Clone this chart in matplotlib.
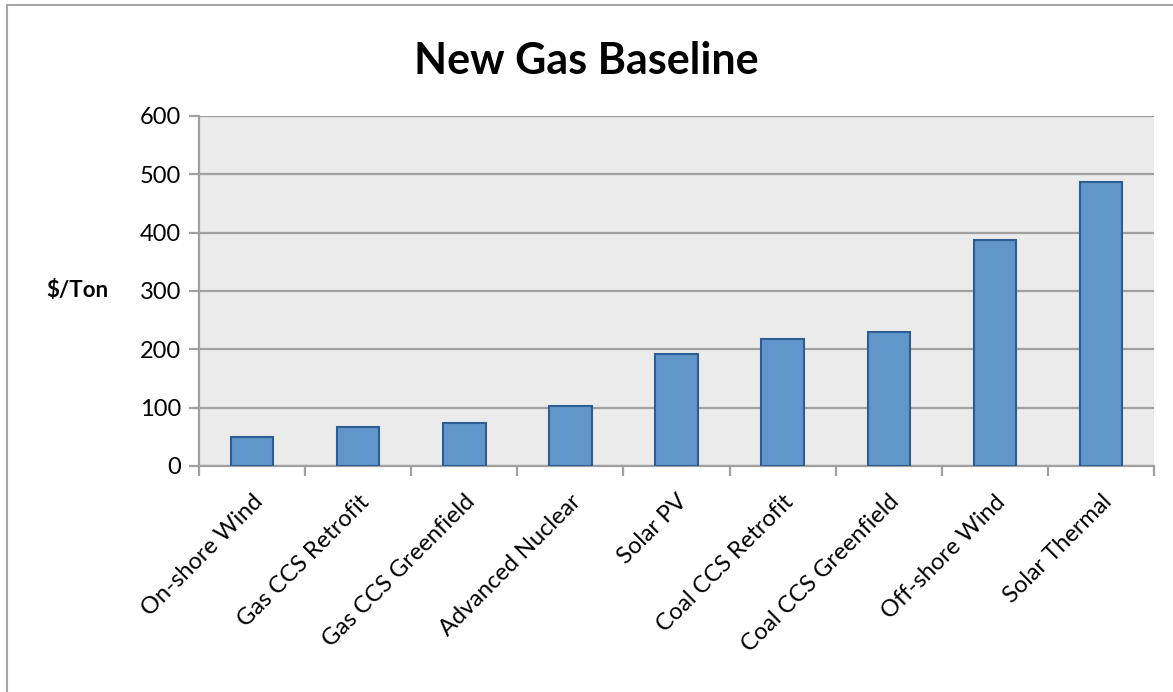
import matplotlib.pyplot as plt
from matplotlib.patches import Rectangle

plt.rcParams['font.family'] = ['Lato', 'DejaVu Sans']

technologies = ['On-shore Wind', 'Gas CCS Retrofit', 'Gas CCS Greenfield',
                'Advanced Nuclear', 'Solar PV', 'Coal CCS Retrofit',
                'Coal CCS Greenfield', 'Off-shore Wind', 'Solar Thermal']
cost_per_ton = [50, 66, 73, 102, 192, 217, 230, 387, 487]
y_ticks = [0, 100, 200, 300, 400, 500, 600]

fig = plt.figure(figsize=(11.73, 6.92), dpi=100)
ax = fig.add_axes([0.1697, 0.3266, 0.8141, 0.5058])

# chart border running off the right and bottom edges
fig.patches.append(Rectangle((7 / 1173, -0.1), 1.2, 1 - 5 / 692 + 0.1,
                             transform=fig.transFigure, fill=False,
                             edgecolor='#A6A6A6', linewidth=1.5))

x = range(len(technologies))
ax.bar(x, cost_per_ton, width=0.4, color='#6096CA', edgecolor='#2C5E94',
       linewidth=1.5, zorder=3)

ax.set_facecolor('#EBEBEB')
ax.set_xlim(-0.5, len(technologies) - 0.5)
ax.set_ylim(0, 600)
ax.set_yticks(y_ticks)
ax.yaxis.grid(True, color='#A0A0A0', linewidth=1.6, zorder=1)
ax.set_axisbelow(True)

for side in ['top', 'right']:
    ax.spines[side].set_visible(False)
for side in ['left', 'bottom']:
    ax.spines[side].set_color('#A0A0A0')
    ax.spines[side].set_linewidth(1.6)

# tick marks sit between the categories
ax.set_xticks([i - 0.5 for i in range(len(technologies) + 1)])
ax.set_xticklabels([])
ax.set_xticks(list(x), minor=True)
ax.set_xticklabels(technologies, minor=True, rotation=45, ha='right',
                   va='top', rotation_mode='anchor', fontsize=17)
ax.tick_params(axis='x', which='minor', length=0, pad=18)
ax.tick_params(axis='x', which='major', length=7, color='#A0A0A0', width=1.6)
ax.tick_params(axis='y', length=7, color='#A0A0A0', width=1.6, labelsize=17,
               pad=6)

ax.set_ylabel('$/Ton', rotation=0, fontsize=16, fontweight='bold',
              va='center', ha='center')
ax.yaxis.set_label_coords(-0.127, 0.5)
fig.text(0.5, 0.912, 'New Gas Baseline', ha='center', va='center',
         fontsize=31, fontweight='bold')

fig.savefig('out.png', dpi=100)
